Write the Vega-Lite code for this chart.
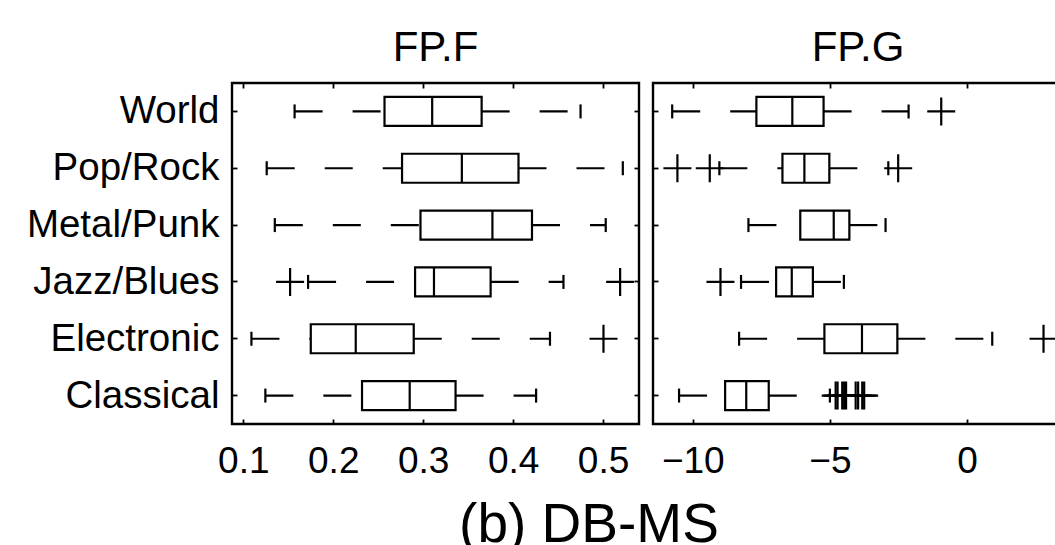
{
  "$schema": "https://vega.github.io/schema/vega-lite/v6.json",
  "padding": {"left": 0, "top": 25, "right": 0, "bottom": 0},
  "background": "white",
  "spacing": 8,
  "datasets": {
    "boxF": [
      {"genre": "World", "lo": 0.157, "q1": 0.257, "med": 0.310, "q3": 0.365, "hi": 0.475},
      {"genre": "Pop/Rock", "lo": 0.126, "q1": 0.2765, "med": 0.343, "q3": 0.406, "hi": 0.522},
      {"genre": "Metal/Punk", "lo": 0.135, "q1": 0.297, "med": 0.377, "q3": 0.421, "hi": 0.503},
      {"genre": "Jazz/Blues", "lo": 0.172, "q1": 0.291, "med": 0.312, "q3": 0.375, "hi": 0.456},
      {"genre": "Electronic", "lo": 0.109, "q1": 0.175, "med": 0.225, "q3": 0.2895, "hi": 0.441},
      {"genre": "Classical", "lo": 0.1245, "q1": 0.232, "med": 0.285, "q3": 0.336, "hi": 0.4256}
    ],
    "outF": [
      {"genre": "Jazz/Blues", "v": 0.152},
      {"genre": "Jazz/Blues", "v": 0.519},
      {"genre": "Electronic", "v": 0.5005}
    ],
    "boxG": [
      {"genre": "World", "lo": -10.75, "q1": -7.68, "med": -6.37, "q3": -5.23, "hi": -2.13},
      {"genre": "Pop/Rock", "lo": -9.03, "q1": -6.73, "med": -5.93, "q3": -5.02, "hi": -2.87},
      {"genre": "Metal/Punk", "lo": -7.97, "q1": -6.08, "med": -4.86, "q3": -4.29, "hi": -2.97},
      {"genre": "Jazz/Blues", "lo": -8.24, "q1": -6.96, "med": -6.39, "q3": -5.62, "hi": -4.49},
      {"genre": "Electronic", "lo": -8.31, "q1": -5.20, "med": -3.83, "q3": -2.54, "hi": 0.92},
      {"genre": "Classical", "lo": -10.50, "q1": -8.82, "med": -8.05, "q3": -7.23, "hi": -5.00}
    ],
    "outG": [
      {"genre": "World", "v": -0.94},
      {"genre": "Pop/Rock", "v": -10.56},
      {"genre": "Pop/Rock", "v": -9.38},
      {"genre": "Pop/Rock", "v": -2.51},
      {"genre": "Jazz/Blues", "v": -8.99},
      {"genre": "Electronic", "v": 2.79},
      {"genre": "Classical", "v": -4.79},
      {"genre": "Classical", "v": -4.72},
      {"genre": "Classical", "v": -4.55},
      {"genre": "Classical", "v": -4.48},
      {"genre": "Classical", "v": -4.41},
      {"genre": "Classical", "v": -4.06},
      {"genre": "Classical", "v": -3.97},
      {"genre": "Classical", "v": -3.82},
      {"genre": "Classical", "v": -3.75}
    ]
  },
  "title": {"text": "(b) DB-MS", "orient": "bottom", "anchor": "middle", "fontSize": 55, "fontWeight": "normal", "font": "Liberation Sans", "color": "black", "baseline": "alphabetic", "offset": 62, "dx": 56},
  "config": {
    "view": {"stroke": "black", "strokeWidth": 2.4},
    "axis": {"domain": false, "grid": false, "ticks": true, "tickColor": "black", "tickWidth": 1.8, "tickSize": -5, "labelFont": "Liberation Sans", "labelFontSize": 38.5, "labelColor": "black", "labelLimit": 0},
    "tick": {"opacity": 1},
    "rule": {"opacity": 1}
  },
  "hconcat": [
    {
      "width": 407,
      "height": 341,
      "title": {"text": "FP.F", "fontSize": 42, "fontWeight": "normal", "font": "Liberation Sans", "color": "black", "baseline": "alphabetic", "offset": -21},
      "data": {"name": "boxF"},
      "resolve": {"axis": {"x": "independent", "y": "independent"}},
      "layer": [
        {
          "mark": {"type": "rule", "strokeDash": [28, 30], "strokeWidth": 2.2, "color": "black"},
          "encoding": {
            "y": {"field": "genre", "type": "nominal", "scale": {"domain": ["World", "Pop/Rock", "Metal/Punk", "Jazz/Blues", "Electronic", "Classical"], "paddingInner": 0, "paddingOuter": 0}, "axis": {"orient": "left", "title": null, "labelPadding": 18, "minExtent": 230, "maxExtent": 230}},
            "x": {"field": "lo", "type": "quantitative", "scale": {"domain": [0.0874, 0.54], "nice": false, "zero": false}, "axis": {"orient": "bottom", "title": null, "values": [0.1, 0.2, 0.3, 0.4, 0.5], "format": ".1f", "labelPadding": 24, "labelFontSize": 37}},
            "x2": {"field": "q1"}
          }
        },
        {
          "mark": {"type": "rule", "strokeDash": [28, 30], "strokeWidth": 2.2, "color": "black"},
          "encoding": {
            "y": {"field": "genre", "type": "nominal", "axis": {"orient": "right", "title": null, "labels": false, "minExtent": 0, "maxExtent": 0}},
            "x": {"field": "q3", "type": "quantitative", "axis": {"orient": "top", "title": null, "labels": false, "values": [0.1, 0.2, 0.3, 0.4, 0.5], "minExtent": 0, "maxExtent": 0}},
            "x2": {"field": "hi"}
          }
        },
        {
          "mark": {"type": "tick", "size": 14, "thickness": 2.2, "color": "black", "opacity": 1},
          "encoding": {
            "y": {"field": "genre", "type": "nominal", "axis": null},
            "x": {"field": "lo", "type": "quantitative", "axis": null}
          }
        },
        {
          "mark": {"type": "tick", "size": 14, "thickness": 2.2, "color": "black", "opacity": 1},
          "encoding": {
            "y": {"field": "genre", "type": "nominal", "axis": null},
            "x": {"field": "hi", "type": "quantitative", "axis": null}
          }
        },
        {
          "mark": {"type": "bar", "size": 29, "fill": "white", "stroke": "black", "strokeWidth": 2.2, "opacity": 1},
          "encoding": {
            "y": {"field": "genre", "type": "nominal", "axis": null},
            "x": {"field": "q1", "type": "quantitative", "axis": null},
            "x2": {"field": "q3"}
          }
        },
        {
          "mark": {"type": "tick", "size": 29, "thickness": 2.2, "color": "black", "opacity": 1},
          "encoding": {
            "y": {"field": "genre", "type": "nominal", "axis": null},
            "x": {"field": "med", "type": "quantitative", "axis": null}
          }
        },
        {
          "data": {"name": "outF"},
          "mark": {"type": "point", "shape": "M-1,0H1M0,-1V1", "size": 784, "filled": false, "color": "black", "strokeWidth": 2.2, "opacity": 1},
          "encoding": {
            "y": {"field": "genre", "type": "nominal", "axis": null},
            "x": {"field": "v", "type": "quantitative", "axis": null}
          }
        }
      ]
    },
    {
      "width": 410,
      "height": 341,
      "title": {"text": "FP.G", "fontSize": 42, "fontWeight": "normal", "font": "Liberation Sans", "color": "black", "baseline": "alphabetic", "offset": -21},
      "data": {"name": "boxG"},
      "resolve": {"axis": {"x": "independent", "y": "independent"}},
      "layer": [
        {
          "mark": {"type": "rule", "strokeDash": [28, 30], "strokeWidth": 2.2, "color": "black"},
          "encoding": {
            "y": {"field": "genre", "type": "nominal", "scale": {"domain": ["World", "Pop/Rock", "Metal/Punk", "Jazz/Blues", "Electronic", "Classical"], "paddingInner": 0, "paddingOuter": 0}, "axis": {"orient": "left", "title": null, "labels": false, "minExtent": 0, "maxExtent": 0}},
            "x": {"field": "lo", "type": "quantitative", "scale": {"domain": [-11.45, 3.5], "nice": false, "zero": false}, "axis": {"orient": "bottom", "title": null, "values": [-10, -5, 0], "format": "d", "labelPadding": 24, "labelFontSize": 37}},
            "x2": {"field": "q1"}
          }
        },
        {
          "mark": {"type": "rule", "strokeDash": [28, 30], "strokeWidth": 2.2, "color": "black"},
          "encoding": {
            "y": {"field": "genre", "type": "nominal", "axis": {"orient": "right", "title": null, "labels": false, "minExtent": 0, "maxExtent": 0}},
            "x": {"field": "q3", "type": "quantitative", "axis": {"orient": "top", "title": null, "labels": false, "values": [-10, -5, 0], "minExtent": 0, "maxExtent": 0}},
            "x2": {"field": "hi"}
          }
        },
        {
          "mark": {"type": "tick", "size": 14, "thickness": 2.2, "color": "black", "opacity": 1},
          "encoding": {
            "y": {"field": "genre", "type": "nominal", "axis": null},
            "x": {"field": "lo", "type": "quantitative", "axis": null}
          }
        },
        {
          "mark": {"type": "tick", "size": 14, "thickness": 2.2, "color": "black", "opacity": 1},
          "encoding": {
            "y": {"field": "genre", "type": "nominal", "axis": null},
            "x": {"field": "hi", "type": "quantitative", "axis": null}
          }
        },
        {
          "mark": {"type": "bar", "size": 29, "fill": "white", "stroke": "black", "strokeWidth": 2.2, "opacity": 1},
          "encoding": {
            "y": {"field": "genre", "type": "nominal", "axis": null},
            "x": {"field": "q1", "type": "quantitative", "axis": null},
            "x2": {"field": "q3"}
          }
        },
        {
          "mark": {"type": "tick", "size": 29, "thickness": 2.2, "color": "black", "opacity": 1},
          "encoding": {
            "y": {"field": "genre", "type": "nominal", "axis": null},
            "x": {"field": "med", "type": "quantitative", "axis": null}
          }
        },
        {
          "data": {"name": "outG"},
          "mark": {"type": "point", "shape": "M-1,0H1M0,-1V1", "size": 784, "filled": false, "color": "black", "strokeWidth": 2.2, "opacity": 1},
          "encoding": {
            "y": {"field": "genre", "type": "nominal", "axis": null},
            "x": {"field": "v", "type": "quantitative", "axis": null}
          }
        }
      ]
    }
  ]
}
